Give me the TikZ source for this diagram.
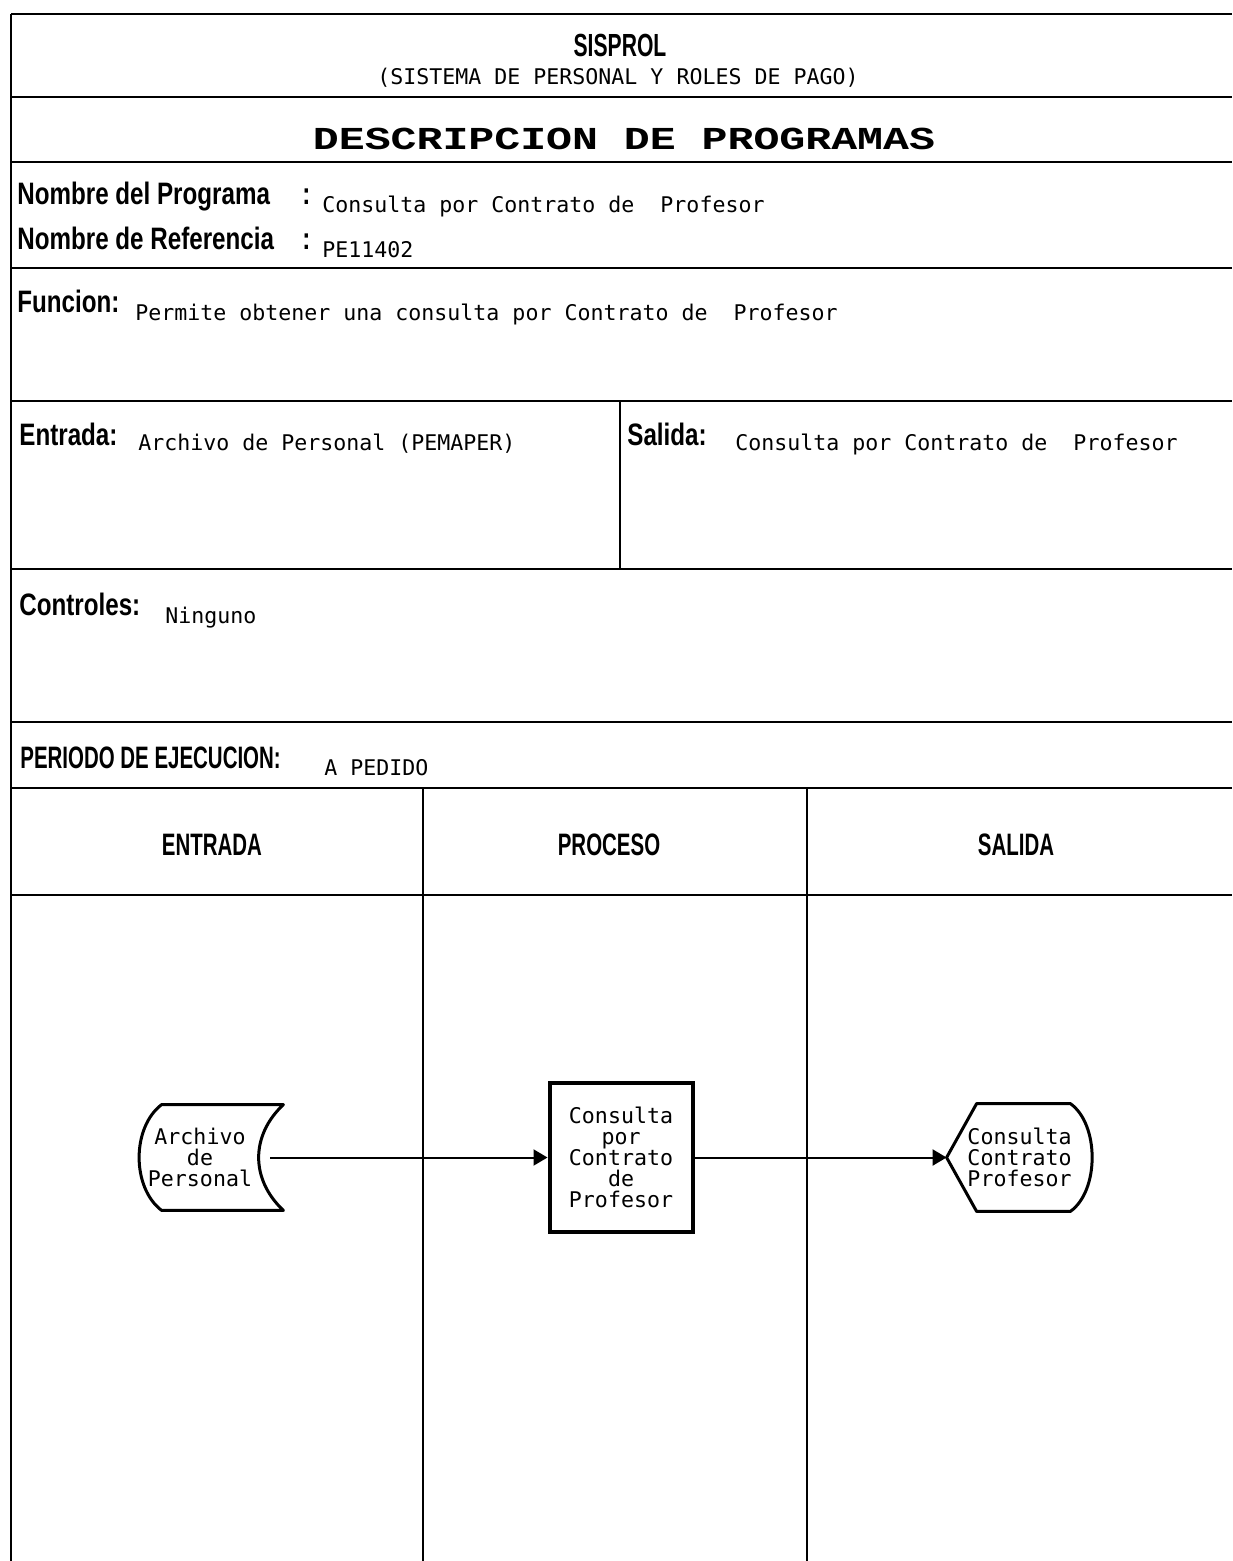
\documentclass[tikz,border=0pt]{standalone}
\usepackage{fontspec}
\setmainfont{Liberation Sans}
\newfontfamily\valfont{DejaVu Sans Mono}
\newfontfamily\lblfont[FakeStretch=0.78]{Liberation Sans}
\newfontfamily\hdrfont[FakeStretch=0.66]{Liberation Sans}
\newfontfamily\ttlfont[FakeStretch=1.35]{Liberation Mono}
\usetikzlibrary{arrows.meta, calc}

\begin{document}
\begin{tikzpicture}[x=0.5pt, y=-0.5pt]

    % Page frame
    \useasboundingbox (0,0) rectangle (1232,1561);

    % Text styles
    \tikzset{lbl/.style={anchor=base west, inner sep=0pt, font=\lblfont\bfseries\fontsize{15.5}{17}\selectfont}}
    \tikzset{hdr/.style={anchor=base, inner sep=0pt, font=\hdrfont\bfseries\fontsize{15.5}{17}\selectfont}}
    \tikzset{val/.style={anchor=base west, inner sep=0pt, font=\valfont\fontsize{10.8}{13}\selectfont}}

    % Form rules
    \tikzset{hrule/.style={line width=1.4pt}}
    \tikzset{vrule/.style={line width=1pt}}

    % Flow chart
    \tikzset{sym/.style={inner sep=0pt, align=center, font=\valfont\fontsize{10.8}{10.5}\selectfont}}
    \tikzset{box/.style={sym, draw, line width=2pt, minimum width=71.5pt, minimum height=74.5pt}}
    \tikzset{outl/.style={line width=1.5pt, line join=round}}
    \tikzset{flow/.style={line width=1pt, -{Triangle[length=7pt, width=8pt]}}}

    % Rules of the form
    \foreach \y in {14,97,162,268,401,569,722,788,895}
        \draw[hrule] (11,\y) -- (1232,\y);
    \draw[vrule] (11,14) -- (11,1561);
    \draw[vrule] (620,401) -- (620,569);
    \draw[vrule] (423,788) -- (423,1561);
    \draw[vrule] (807,788) -- (807,1561);

    % Heading
    \node (title) [hdr, font=\hdrfont\bfseries\fontsize{16}{18}\selectfont] at (620,57) {SISPROL};
    \node (subtitle) [val, anchor=base] at (618,85) {(SISTEMA DE PERSONAL Y ROLES DE PAGO)};
    \node (descr) [anchor=base, inner sep=0pt, font=\ttlfont\bfseries\fontsize{16}{18}\selectfont] at (624,150) {DESCRIPCION DE PROGRAMAS};

    % Fields
    \node (progLbl) [lbl] at (17,205) {\makebox[142.5pt][l]{Nombre del Programa}:};
    	\node (progVal) [val] at (322,213) {Consulta por Contrato de\ \ Profesor};
    \node (refLbl) [lbl] at (17,250) {\makebox[142.5pt][l]{Nombre de Referencia}:};
    	\node (refVal) [val] at (322,258) {PE11402};
    \node (funcLbl) [lbl] at (17,313) {Funcion:};
    	\node (funcVal) [val] at (135,321) {Permite obtener una consulta por Contrato de\ \ Profesor};
    \node (entLbl) [lbl] at (19,445) {Entrada:};
    	\node (entVal) [val] at (138,451) {Archivo de Personal (PEMAPER)};
    \node (salLbl) [lbl] at (627,445) {Salida:};
    	\node (salVal) [val] at (735,451) {Consulta por Contrato de\ \ Profesor};
    \node (ctrlLbl) [lbl] at (19,615) {Controles:};
    	\node (ctrlVal) [val] at (165,623) {Ninguno};
    \node (perLbl) [hdr, anchor=base west] at (20,768) {PERIODO DE EJECUCION:};
    	\node (perVal) [val] at (324,775) {A PEDIDO};

    % Column heads
    \node (hdrEnt) [hdr] at (212,855) {ENTRADA};
    \node (hdrProc) [hdr] at (609,855) {PROCESO};
    \node (hdrSal) [hdr] at (1016,855) {SALIDA};

    % Chart nodes
    \node (arch) [sym, minimum width=60pt, minimum height=52.5pt] at (200,1157.5) {Archivo\\de\\Personal};
    \node (proc) [box] at (621,1157.5) {Consulta\\por\\Contrato\\de\\Profesor};
    \node (sal) [sym, minimum width=72.5pt, minimum height=53.5pt] at (1019.5,1157.5) {Consulta\\Contrato\\Profesor};

    % Stored data outline
    \draw[outl] ($(arch.north west)+(22,0)$) -- ($(arch.north east)+(23,0)$)
    	.. controls ($(arch.east)+(-10,-22)$) and ($(arch.east)+(-10,22)$) .. ($(arch.south east)+(23,0)$)
    	-- ($(arch.south west)+(22,0)$)
    	.. controls ($(arch.west)+(-8,30)$) and ($(arch.west)+(-8,-30)$) .. cycle;

    % Display outline
    \draw[outl] (sal.west) -- ($(sal.north west)+(30,0)$) -- ($(sal.north east)+(-22,0)$)
    	.. controls ($(sal.east)+(7,-33)$) and ($(sal.east)+(7,33)$) .. ($(sal.south east)+(-22,0)$)
    	-- ($(sal.south west)+(30,0)$) -- cycle;

    % Connectors
    \draw[flow] ([xshift=5pt]arch.east) -- (proc);
    \draw[flow] (proc) -- (sal);

\end{tikzpicture}
\end{document}
